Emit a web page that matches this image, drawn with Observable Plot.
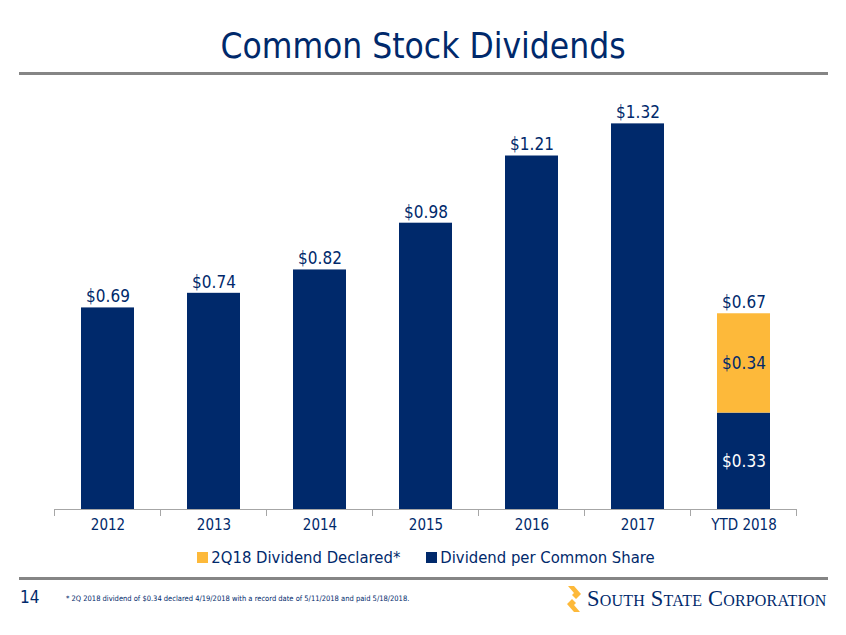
<!DOCTYPE html>
<html>
<head>
<meta charset="utf-8">
<script src="https://cdn.jsdelivr.net/npm/d3@7"></script>
<script src="https://cdn.jsdelivr.net/npm/@observablehq/plot@0.6"></script>
<style>
  html, body { margin: 0; padding: 0; background: #fff; }
  #page { position: relative; width: 846px; height: 635px; overflow: hidden; font-family: "DejaVu Sans Condensed", "DejaVu Sans", sans-serif; color: #00296b; }
  #title { position: absolute; left: 0; width: 846px; top: 24px; text-align: center; font-size: 35px; line-height: 44px; color: #00296b; }
  .rule { position: absolute; left: 19px; width: 809px; height: 3px; background: #858585; }
  #chart { position: absolute; left: 0; top: 80px; }
  #legend { position: absolute; top: 547px; left: 0; width: 846px; display: flex; justify-content: center; gap: 26px; font-size: 16.5px; line-height: 22px; padding-left: 6px; box-sizing: border-box; }
  #legend span.sw { display: inline-block; width: 11px; height: 11px; margin-right: 3px; vertical-align: 0px; }
  #pg { position: absolute; left: 20px; top: 587px; font-size: 17px; color: #00296b; }
  #note { position: absolute; left: 66px; top: 594px; font-size: 7.5px; color: #00296b; }
  #logo { position: absolute; left: 566px; top: 586px; display: flex; align-items: center; }
  #logo .name { font-family: "Liberation Serif", "DejaVu Serif", serif; font-variant: small-caps; font-size: 22.5px; color: #00296b; letter-spacing: 0.2px; margin-left: 5px; }
</style>
</head>
<body>
<div id="page">
  <div id="title">Common Stock Dividends</div>
  <div class="rule" style="top:72px"></div>
  <div id="chart"></div>
  <div id="legend"></div>
  <div class="rule" style="top:577px"></div>
  <div id="pg">14</div>
  <div id="note">* 2Q 2018 dividend of $0.34 declared 4/19/2018 with a record date of 5/11/2018 and paid 5/18/2018.</div>
  <div id="logo">
    <svg width="16" height="26" viewBox="0 0 16 26">
      <path d="M2 0 L8 0 L15 8 L10 13 L6 9 L8 7 Z" fill="#fdb93a"/>
      <path d="M6 13 L10 17 L8 19 L14 26 L8 26 L1 18 Z" fill="#fdb93a"/>
    </svg>
    <span class="name">South State Corporation</span>
  </div>
</div>
<script>
const years = ["2012", "2013", "2014", "2015", "2016", "2017", "YTD 2018"];
const dividendPerShare = [0.69, 0.74, 0.82, 0.98, 1.21, 1.32, 0.33];
const declared2Q18 = [0, 0, 0, 0, 0, 0, 0.34];
const totalLabels = ["$0.69", "$0.74", "$0.82", "$0.98", "$1.21", "$1.32", "$0.67"];
const seriesNames = ["Dividend per Common Share", "2Q18 Dividend Declared*"];
const seriesColors = ["#00296b", "#fdb93a"];

const rows = [];
years.forEach((yr, i) => rows.push({year: yr, series: seriesNames[0], value: dividendPerShare[i]}));
years.forEach((yr, i) => { if (declared2Q18[i] > 0) rows.push({year: yr, series: seriesNames[1], value: declared2Q18[i]}); });
const totals = years.map((yr, i) => ({year: yr, total: dividendPerShare[i] + declared2Q18[i], label: totalLabels[i]}));
const inner = rows.filter(d => d.year === "YTD 2018");

function boundaryTicks(index, scales, values, dims) {
  const x = scales.x;
  const step = typeof x.step === "function" ? x.step() : 106;
  const bw = typeof x.bandwidth === "function" ? x.bandwidth() : 53;
  const y0 = scales.y(0);
  const g = d3.create("svg:g").attr("stroke", "#a6a6a6").attr("stroke-width", 1);
  const edges = years.map(c => x(c) + bw / 2 - step / 2);
  edges.push(x(years[years.length - 1]) + bw / 2 + step / 2);
  edges.forEach(e => g.append("line").attr("x1", e).attr("x2", e).attr("y1", y0).attr("y2", y0 + 7));
  return g.node();
}

const chart = Plot.plot({
  width: 846,
  height: 460,
  marginLeft: 54,
  marginRight: 50,
  marginTop: 20,
  marginBottom: 31,
  style: {fontFamily: "'DejaVu Sans Condensed', 'DejaVu Sans', sans-serif", background: "transparent"},
  x: {domain: years, paddingInner: 0.5, paddingOuter: 0.25, label: null},
  y: {domain: [0, 1.4], axis: null},
  color: {domain: seriesNames, range: seriesColors},
  marks: [
    Plot.barY(rows, Plot.stackY({x: "year", y: "value", fill: "series", z: "series"})),
    Plot.ruleY([0], {stroke: "#a6a6a6", strokeWidth: 1}),
    boundaryTicks,
    Plot.axisX({tickSize: 0, tickPadding: 10, fontSize: 15, fill: "#00296b", label: null}),
    Plot.text(totals, {x: "year", y: "total", text: "label", dy: -11, fontSize: 17, fill: "#00296b"}),
    Plot.text(inner, Plot.stackY({x: "year", y: "value", z: "series", text: d => "$" + d.value.toFixed(2),
      fill: d => d.series === seriesNames[0] ? "#ffffff" : "#00296b", fontSize: 17}))
  ]
});
document.getElementById("chart").appendChild(chart);

const legend = document.getElementById("legend");
[1, 0].forEach(i => {
  const item = document.createElement("div");
  const sw = document.createElement("span");
  sw.className = "sw";
  sw.style.background = seriesColors[i];
  item.appendChild(sw);
  item.appendChild(document.createTextNode(seriesNames[i]));
  legend.appendChild(item);
});
</script>
</body>
</html>
